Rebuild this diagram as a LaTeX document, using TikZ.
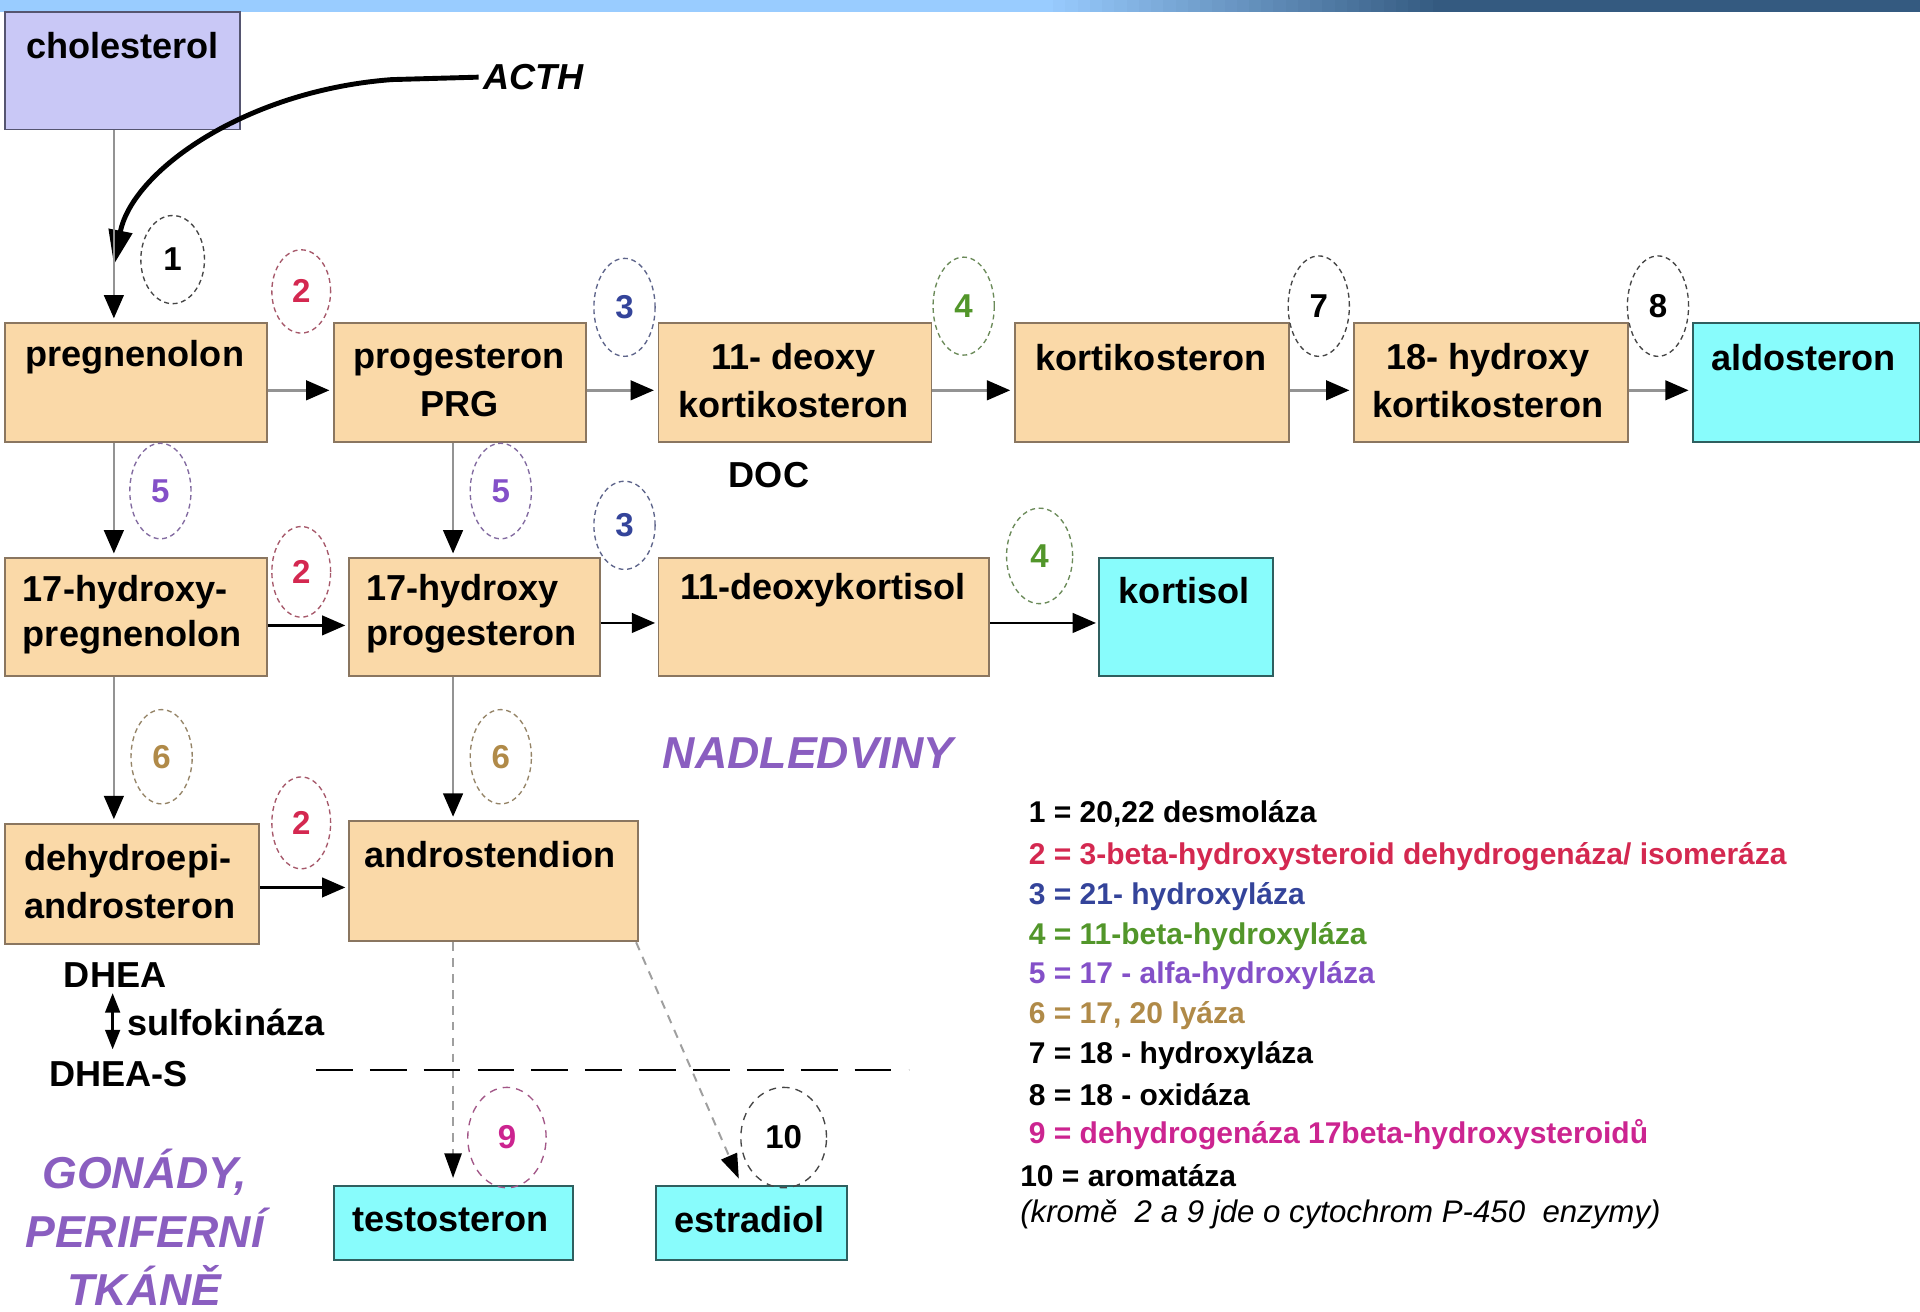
\documentclass[tikz,border=0pt]{standalone}
\usepackage{fontspec}
\setmainfont{Liberation Sans}
\usetikzlibrary{arrows.meta,shapes.geometric,calc}
\definecolor{peach}{HTML}{FAD9A8}
\definecolor{peachline}{HTML}{8A7660}
\definecolor{cyanbox}{HTML}{88FCFC}
\definecolor{cyanline}{HTML}{2F5F5F}
\definecolor{lav}{HTML}{C9C8F6}
\definecolor{lavline}{HTML}{555570}
\definecolor{cred}{HTML}{D42850}
\definecolor{cblue}{HTML}{34449A}
\definecolor{cgreen}{HTML}{52962A}
\definecolor{cpurp}{HTML}{8450C8}
\definecolor{cbrown}{HTML}{B08A48}
\definecolor{cmag}{HTML}{CC2490}
\definecolor{regpurp}{HTML}{8A5EC0}
\definecolor{barlight}{HTML}{99CCFF}
\definecolor{barmid}{HTML}{7FA8D8}
\definecolor{barmid2}{HTML}{5A80AA}
\definecolor{bardark}{HTML}{345A80}
\tikzset{
  pbox/.style={rectangle, draw=peachline, fill=peach, line width=1.5pt, inner sep=0, anchor=north west},
  cbox/.style={rectangle, draw=cyanline, fill=cyanbox, line width=1.5pt, inner sep=0, anchor=north west},
  lbox/.style={rectangle, draw=lavline, fill=lav, line width=1.5pt, inner sep=0, anchor=north west},
  txt/.style={font=\fontsize{29.5}{33}\selectfont\bfseries, inner sep=0},
  enz/.style={ellipse, draw=#1!45!gray, text=#1, dash pattern=on 4pt off 3pt, line width=1.1pt, inner sep=0,
     minimum width=50, minimum height=76, font=\fontsize{27}{30}\selectfont\bfseries},
  arr/.style={draw=gray!85, line width=2pt, shorten >=3pt, -{Triangle[length=19pt,width=16pt,color=black]}},
  barr/.style={draw=black, line width=2pt, shorten >=2pt, -{Triangle[length=19pt,width=16pt,color=black]}},
  darr/.style={draw=gray!75, line width=1.6pt, dash pattern=on 7pt off 6pt, shorten >=6pt, -{Triangle[length=20pt,width=14pt,color=black]}},
  leg/.style={anchor=west, inner sep=0, font=\fontsize{24.5}{28}\selectfont\bfseries},
  reg/.style={text=regpurp, inner sep=0, font=\fontsize{36.5}{40}\selectfont\bfseries\itshape},
}
\begin{document}
\begin{tikzpicture}[x=1pt,y=-1pt]
\useasboundingbox (0,0) rectangle (1568,1071);
\fill[white] (0,0) rectangle (1568,1071);
% top bar: stepped gradient
\foreach \i in {0,...,32} {
  \pgfmathsetmacro{\pct}{100-\i*100/32}
  \fill[barlight!\pct!bardark] ({850+\i*10},0) rectangle ({861+\i*10},9.5);
}
\fill[barlight] (0,0) rectangle (851,9.5);
\fill[bardark] (1179,0) rectangle (1568,9.5);

% boxes
\node[lbox, minimum width=192, minimum height=96] (chol) at (3,9) {};
\node[txt] (tchol) at (100,37) {cholesterol};

\node[pbox, minimum width=214, minimum height=97] (preg) at (3,263) {};
\node[txt] (tpreg) at (110,292) {pregnenolon};
\node[pbox, minimum width=206, minimum height=97] (prog) at (272,263) {};
\node[txt, align=center] (tprog) at (375,311) {progesteron\\[6pt]PRG};
\node[pbox, minimum width=223, minimum height=97] (doc) at (537,263) {};
\node[txt, align=center] (tdoc) at (648,311) {11- deoxy\\[6pt]kortikosteron};
\node[pbox, minimum width=224, minimum height=97] (kort) at (828,263) {};
\node[txt] (tkort) at (940,292) {kortikosteron};
\node[pbox, minimum width=224, minimum height=97] (hkort) at (1105,263) {};
\node[txt, align=center] (thkort) at (1215,311) {18- hydroxy\\[6pt]kortikosteron};
\node[cbox, minimum width=185, minimum height=97] (aldo) at (1382,263) {};
\node[txt] (taldo) at (1473,292) {aldosteron};
\node[txt] (tDOC) at (628,388) {DOC};

\node[pbox, minimum width=214, minimum height=96] (ohpreg) at (3,455) {};
\node[txt, align=left] (tohpreg) at (108,502) {17-hydroxy-\\[4pt]pregnenolon};
\node[pbox, minimum width=205, minimum height=96] (ohprog) at (284,455) {};
\node[txt, align=left] (tohprog) at (385,501) {17-hydroxy\\[4pt]progesteron};
\node[pbox, minimum width=270, minimum height=96] (dkort) at (537,455) {};
\node[txt] (tdkort) at (672,482) {11-deoxykortisol};
\node[cbox, minimum width=142, minimum height=96] (kortisol) at (897,455) {};
\node[txt] (tkortisol) at (967,482) {kortisol};

\node[pbox, minimum width=208, minimum height=98] (dhea) at (3,672) {};
\node[txt, align=left] (tdhea) at (106,720) {dehydroepi-\\[6pt]androsteron};
\node[pbox, minimum width=236, minimum height=98] (andro) at (284,670) {};
\node[txt] (tandro) at (400,698) {androstendion};

\node[cbox, minimum width=195, minimum height=60] (testo) at (272,968) {};
\node[txt] (ttesto) at (368,996) {testosteron};
\node[cbox, minimum width=156, minimum height=60] (estra) at (535,968) {};
\node[txt] (testra) at (612,996) {estradiol};

% DHEA
\node[txt] (tDHEA) at (94,796) {DHEA};
\node[txt] (tDHEAS) at (97,877) {DHEA-S};
\node[txt, anchor=west] (tsulfo) at (104,835) {sulfokináza};
\coordinate (sA) at (92,811);
\coordinate (sB) at (92,857);
\draw[line width=2.2pt, {Triangle[length=16pt,width=12pt]}-{Triangle[length=16pt,width=12pt]}] (sA) -- (sB);

% columns
\coordinate (cx1) at (93,0);
\coordinate (cx2) at (370,0);

% ACTH
\node[inner sep=0, font=\fontsize{29.5}{33}\selectfont\bfseries\itshape] (acth) at (436,63) {ACTH};
\coordinate (acthEnd) at (93,216);
\draw[line width=4pt, -{Triangle[length=28pt,width=19pt]}] ([xshift=-4pt]acth.west) -- (320,65) .. controls (200,74) and (108,140) .. (acthEnd);

% vertical arrows
\draw[arr] (chol.south -| cx1) -- (preg.north -| cx1);
\draw[arr] (preg.south -| cx1) -- (ohpreg.north -| cx1);
\draw[arr] (ohpreg.south -| cx1) -- (dhea.north -| cx1);
\draw[arr] (prog.south -| cx2) -- (ohprog.north -| cx2);
\draw[arr] (ohprog.south -| cx2) -- (andro.north -| cx2);
\draw[darr] (andro.south -| cx2) -- (testo.north -| cx2);
\draw[darr] ([xshift=-2pt]andro.south east) -- ([xshift=-8pt]estra.north);

% horizontal arrows
\draw[arr] ([yshift=-6.5pt]preg.east) -- ([yshift=-6.5pt]prog.west);
\draw[arr] ([yshift=-6.5pt]prog.east) -- ([yshift=-6.5pt]doc.west);
\draw[arr] ([yshift=-6.5pt]doc.east) -- ([yshift=-6.5pt]kort.west);
\draw[arr] ([yshift=-6.5pt]kort.east) -- ([yshift=-6.5pt]hkort.west);
\draw[arr] ([yshift=-6.5pt]hkort.east) -- ([yshift=-6.5pt]aldo.west);
\draw[barr] ([yshift=-7pt]ohpreg.east) -- ([yshift=-7pt]ohprog.west);
\draw[barr] ([yshift=-5pt]ohprog.east) -- ([yshift=-5pt]dkort.west);
\draw[barr] ([yshift=-5pt]dkort.east) -- ([yshift=-5pt]kortisol.west);
\draw[barr] ([yshift=-3pt]dhea.east) -- ([yshift=-3pt]dhea.east -| andro.west);

% separator
\coordinate (sepL) at (258,874);
\coordinate (sepR) at (742,874);
\draw[line width=2pt, dash pattern=on 30pt off 14pt] (sepL) -- (sepR);

% enzyme ellipses
\node[enz=black, minimum width=52, minimum height=72] (e1) at (141,212) {1};
\node[enz=cred, minimum width=48, minimum height=68] (e2a) at (246,238) {2};
\node[enz=cblue, minimum height=80] (e3a) at (510,251) {3};
\node[enz=cgreen, minimum height=80] (e4a) at (787,250) {4};
\node[enz=black, minimum height=82] (e7) at (1077,250) {7};
\node[enz=black, minimum height=82] (e8) at (1354,250) {8};
\node[enz=cpurp, minimum height=78] (e5a) at (131,401) {5};
\node[enz=cpurp, minimum height=78] (e5b) at (409,401) {5};
\node[enz=cred, minimum width=48, minimum height=74] (e2b) at (246,467) {2};
\node[enz=cblue, minimum height=72] (e3b) at (510,429) {3};
\node[enz=cgreen, minimum width=54, minimum height=78] (e4b) at (849,454) {4};
\node[enz=cbrown, minimum height=77] (e6a) at (132,618) {6};
\node[enz=cbrown, minimum height=77] (e6b) at (409,618) {6};
\node[enz=cred, minimum width=48, minimum height=75] (e2c) at (246,672) {2};
\node[enz=cmag, minimum width=64, minimum height=82, dash pattern=on 6pt off 5pt] (e9) at (414,929) {9};
\node[enz=black, minimum width=70, minimum height=82, dash pattern=on 6pt off 5pt] (e10) at (640,929) {10};

% region labels
\node[reg] (nadl) at (660,615) {NADLEDVINY};
\node[reg] (gon1) at (118,957) {GONÁDY,};
\node[reg] (gon2) at (118,1003) {PERIFERNÍ};
\node[reg] (gon3) at (118,1050) {TKÁNĚ};

% legend
\node[leg] (l1) at (840,665) {1 = 20,22 desmoláza};
\node[leg, text=cred] (l2) at (840,700) {2 = 3-beta-hydroxysteroid dehydrogenáza/ isomeráza};
\node[leg, text=cblue] (l3) at (840,732) {3 = 21- hydroxyláza};
\node[leg, text=cgreen] (l4) at (840,765) {4 = 11-beta-hydroxyláza};
\node[leg, text=cpurp] (l5) at (840,797) {5 = 17 - alfa-hydroxyláza};
\node[leg, text=cbrown] (l6) at (840,829) {6 = 17, 20 lyáza};
\node[leg] (l7) at (840,862) {7 = 18 - hydroxyláza};
\node[leg] (l8) at (840,894) {8 = 18 - oxidáza};
\node[leg, text=cmag] (l9) at (840,927) {9 = dehydrogenáza 17beta-hydroxysteroidů};
\node[leg] (l10) at (833,960) {10 = aromatáza};
\node[leg, font=\fontsize{25.5}{28}\selectfont\itshape] (l11) at (833,992) {(kromě~ 2 a 9 jde o cytochrom P-450~ enzymy)};
\end{tikzpicture}
\end{document}
